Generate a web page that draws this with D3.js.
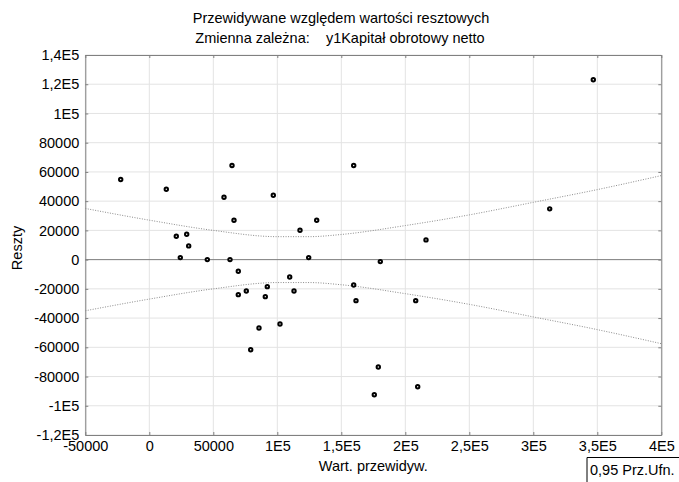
<!DOCTYPE html>
<html>
<head>
<meta charset="utf-8">
<script src="https://cdn.jsdelivr.net/npm/d3@7"></script>
<style>
  body { margin: 0; background: #fff; }
  text { font-family: "Liberation Sans", Arial, sans-serif; fill: #000; }
</style>
</head>
<body>
<div id="chart"></div>
<script>
// predicted values (x) and residuals (y)
const predicted = [-22340, 13280, 64610, 58360, 96880, 66170, 117730, 21090, 29220, 30780,
  24220, 45310, 63050, 69530, 109690, 75780, 92190, 69530, 90630, 113050,
  102110, 85700, 79220, 159690, 130780, 216170, 124530, 180470, 159690, 161480,
  208130, 178910, 209690, 175780, 346880, 312810];
const residuals = [54790, 48150, 64380, 42670, 44040, 26920, 20070, 15960, 17330, 9380,
  1370, 0, 0, -8010, -11850, -21440, -18490, -23970, -25340, -21440,
  -44040, -46780, -61640, 64380, 26920, 13490, 1370, -1370, -17330, -28080,
  -28080, -73490, -86980, -92460, 123080, 34720];

// 0,95 confidence band
const bandX = [-50000, 0, 50000, 100000, 125000, 150000, 200000, 250000, 300000, 350000, 400000];
const bandUpper = [35000, 27000, 20000, 15700, 15700, 17200, 23300, 30600, 39200, 47900, 57500];
const bandLower = [-35000, -27000, -20000, -15700, -15700, -17200, -23300, -30600, -39200, -47900, -57500];

const xTicks = [-50000, 0, 50000, 100000, 150000, 200000, 250000, 300000, 350000, 400000];
const xTickLabels = ["-50000", "0", "50000", "1E5", "1,5E5", "2E5", "2,5E5", "3E5", "3,5E5", "4E5"];
const yTicks = [-120000, -100000, -80000, -60000, -40000, -20000, 0, 20000, 40000, 60000, 80000, 100000, 120000, 140000];
const yTickLabels = ["-1,2E5", "-1E5", "-80000", "-60000", "-40000", "-20000", "0", "20000", "40000", "60000", "80000", "1E5", "1,2E5", "1,4E5"];

const W = 679, H = 482;
var margin = { top: 55, left: 85.3, right: 17.7, bottom: 47 },
  width = W - margin.left - margin.right,
  height = H - margin.top - margin.bottom;

var svg = d3.select("#chart").append("svg")
  .attr("width", W)
  .attr("height", H);

var g = svg.append("g")
  .attr("transform", `translate(${margin.left}, ${margin.top})`);

var x = d3.scaleLinear().domain([-50000, 400000]).range([0, width]);
var y = d3.scaleLinear().domain([-120000, 140000]).range([height, 0]);

// grid
g.append("g").selectAll("line")
  .data(xTicks)
  .enter().append("line")
  .attr("x1", d => x(d)).attr("x2", d => x(d))
  .attr("y1", 0).attr("y2", height)
  .attr("stroke", "#e3e3e3");
g.append("g").selectAll("line")
  .data(yTicks)
  .enter().append("line")
  .attr("x1", 0).attr("x2", width)
  .attr("y1", d => y(d)).attr("y2", d => y(d))
  .attr("stroke", "#e3e3e3");

// zero line
g.append("line")
  .attr("x1", 0).attr("x2", width)
  .attr("y1", y(0)).attr("y2", y(0))
  .attr("stroke", "#808080");

// axes, ticks pointing inward
const fmtX = d => xTickLabels[xTicks.indexOf(d)];
const fmtY = d => yTickLabels[yTicks.indexOf(d)];

function styleAxis(sel) {
  sel.select(".domain").attr("stroke", "#808080");
  sel.selectAll(".tick line").attr("stroke", "#808080");
  sel.selectAll("text").style("font-size", "14.5px").attr("fill", "#000");
}

g.append("g")
  .attr("transform", `translate(0, ${height})`)
  .call(d3.axisBottom(x).tickValues(xTicks).tickFormat(fmtX).tickSize(-3).tickSizeOuter(0).tickPadding(5.5))
  .call(styleAxis);
g.append("g")
  .call(d3.axisLeft(y).tickValues(yTicks).tickFormat(fmtY).tickSize(-3).tickSizeOuter(0).tickPadding(6))
  .call(styleAxis);
g.append("g")
  .call(d3.axisTop(x).tickValues(xTicks).tickFormat("").tickSize(-3).tickSizeOuter(0))
  .call(styleAxis);
g.append("g")
  .attr("transform", `translate(${width}, 0)`)
  .call(d3.axisRight(y).tickValues(yTicks).tickFormat("").tickSize(-3).tickSizeOuter(0))
  .call(styleAxis);

// confidence band
var band = d3.line()
  .x(d => x(d[0]))
  .y(d => y(d[1]))
  .curve(d3.curveMonotoneX);
[bandUpper, bandLower].forEach(vals => {
  g.append("path")
    .attr("d", band(bandX.map((v, i) => [v, vals[i]])))
    .attr("fill", "none")
    .attr("stroke", "#8c8c8c")
    .attr("stroke-width", 1)
    .attr("stroke-dasharray", "1,1.5");
});

// points
g.append("g").selectAll("circle")
  .data(predicted.map((v, i) => [v, residuals[i]]))
  .enter().append("circle")
  .attr("cx", d => x(d[0]))
  .attr("cy", d => y(d[1]))
  .attr("r", 1.7)
  .attr("fill", "#fff")
  .attr("stroke", "#000")
  .attr("stroke-width", 2);

// titles
svg.append("text")
  .attr("x", 341).attr("y", 23)
  .attr("text-anchor", "middle")
  .style("font-size", "14.5px")
  .text("Przewidywane względem wartości resztowych");
svg.append("text")
  .attr("x", 340).attr("y", 43)
  .attr("text-anchor", "middle")
  .style("font-size", "14.5px")
  .style("white-space", "pre")
  .text("Zmienna zależna:    y1Kapitał obrotowy netto");

svg.append("text")
  .attr("x", margin.left + width / 2).attr("y", 471)
  .attr("text-anchor", "middle")
  .style("font-size", "14.5px")
  .text("Wart. przewidyw.");
svg.append("text")
  .attr("transform", "translate(22, 248) rotate(-90)")
  .attr("text-anchor", "middle")
  .style("font-size", "14.5px")
  .text("Reszty");

// legend box
svg.append("path")
  .attr("d", "M587,482V457.5H679")
  .attr("fill", "none")
  .attr("stroke", "#000");
svg.append("text")
  .attr("x", 590).attr("y", 475)
  .style("font-size", "14.5px")
  .text("0,95 Prz.Ufn.");
</script>
</body>
</html>
